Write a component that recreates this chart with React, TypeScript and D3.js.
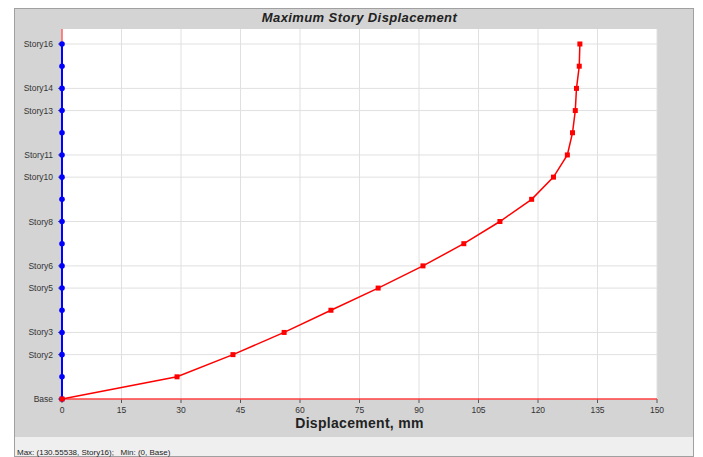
import React from 'react';
import * as d3 from 'd3';

// story names from bottom to top
const stories = ['Base', 'Story1', 'Story2', 'Story3', 'Story4', 'Story5', 'Story6', 'Story7', 'Story8',
  'Story9', 'Story10', 'Story11', 'Story12', 'Story13', 'Story14', 'Story15', 'Story16'];
const labelledStories = ['Base', 'Story2', 'Story3', 'Story5', 'Story6', 'Story8', 'Story10', 'Story11',
  'Story13', 'Story14', 'Story16'];
const displacement = [0, 29.0, 43.1, 56.0, 67.8, 79.7, 91.0, 101.3, 110.4, 118.4, 123.9, 127.4, 128.7,
  129.4, 129.7, 130.4, 130.55538];
const baseSeries = [0, 0, 0, 0, 0, 0, 0, 0, 0, 0, 0, 0, 0, 0, 0, 0, 0];
const xTicks = [0, 15, 30, 45, 60, 75, 90, 105, 120, 135, 150];

const width = 703;
const height = 457;
const margin = { left: 62, right: 657, top: 29, bottom: 399 };
const font = '"Liberation Sans", Arial, sans-serif';

export default function App() {
  const x = d3.scaleLinear().domain([0, 150]).range([margin.left, margin.right]);
  const y = d3.scalePoint<string>().domain(stories).range([margin.bottom, 44]);

  const line = d3.line<number>()
    .x(d => x(d))
    .y((d, i) => y(stories[i]) as number);

  return (
    <svg width={width} height={height} style={{ position: 'absolute', left: 0, top: 0 }}>
      {/* frame */}
      <rect x={14.5} y={8.5} width={679} height={448} fill="#efefef" stroke="#a0a0a0" />
      <rect x={15} y={9} width={678} height={428} fill="#d4d4d4" />
      <rect x={margin.left} y={margin.top} width={margin.right - margin.left}
        height={margin.bottom - margin.top} fill="#fff" />

      <text x={(margin.left + margin.right) / 2} y={22} textAnchor="middle" fontFamily={font}
        fontSize={13} fontWeight="bold" fontStyle="italic" letterSpacing={0.4} fill="#222">Maximum Story Displacement</text>

      {/* grid */}
      {xTicks.map(t => (
        <g key={'x' + t}>
          {t > 0 && <line x1={x(t)} x2={x(t)} y1={margin.top} y2={margin.bottom} stroke="#e0e0e0" />}
          <line x1={x(t)} x2={x(t)} y1={margin.bottom} y2={margin.bottom + 4} stroke="#555" />
          <text x={x(t)} y={413} textAnchor="middle" fontFamily={font} fontSize={8.5} fill="#333">{t}</text>
        </g>
      ))}
      {labelledStories.map(s => (
        <g key={s}>
          {s !== 'Base' && <line x1={margin.left} x2={margin.right} y1={y(s)} y2={y(s)} stroke="#e0e0e0" />}
          <line x1={margin.left - 4} x2={margin.left} y1={y(s)} y2={y(s)} stroke="#555" />
          <text x={53} y={(y(s) as number) + 3} textAnchor="end" fontFamily={font} fontSize={8.5}
            fill="#333">{s}</text>
        </g>
      ))}

      {/* axes */}
      <line x1={margin.left} x2={margin.right} y1={margin.bottom} y2={margin.bottom} stroke="#ff4040" strokeWidth={1.5} />
      <line x1={margin.left} x2={margin.left} y1={margin.top} y2={margin.bottom} stroke="#ff6060" strokeWidth={1.5} />

      {/* blue series */}
      <path d={line(baseSeries) || ''} fill="none" stroke="#0000ff" strokeWidth={2} />
      {baseSeries.map((d, i) => (
        <circle key={'b' + i} cx={x(d)} cy={y(stories[i])} r={2.8} fill="#0000ff" />
      ))}

      {/* red series */}
      <path d={line(displacement) || ''} fill="none" stroke="#ff0000" strokeWidth={1.5} />
      {displacement.map((d, i) => (
        <rect key={'r' + i} x={x(d) - 2.5} y={(y(stories[i]) as number) - 2.5} width={5} height={5} fill="#ff0000" />
      ))}

      <text x={(margin.left + margin.right) / 2} y={428} textAnchor="middle" fontFamily={font}
        fontSize={14} fontWeight="bold" letterSpacing={0.3} fill="#222">Displacement, mm</text>
      <text x={17} y={455} fontFamily={font} fontSize={8} fill="#222" style={{ whiteSpace: 'pre' }}>
        {'Max: (130.55538, Story16);   Min: (0, Base)'}
      </text>
    </svg>
  );
}
